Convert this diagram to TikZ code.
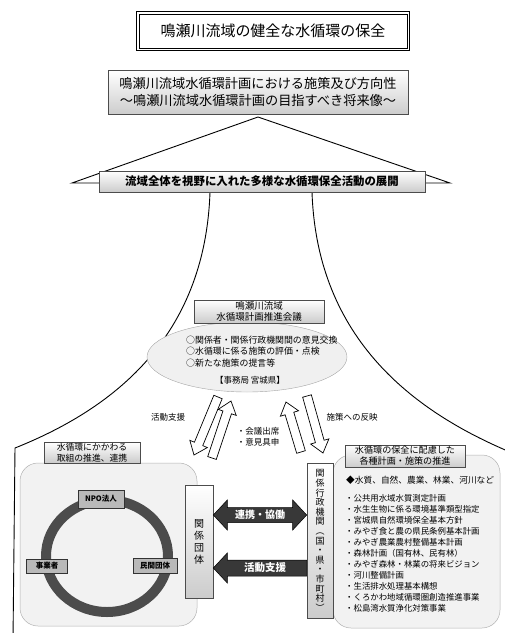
\documentclass[tikz,border=0pt]{standalone}
\usepackage{fontspec}
\setmainfont{Noto Sans CJK JP}
\usetikzlibrary{calc,shapes.geometric}
\tikzset{
  boxshade/.style={draw=black!70, top color=white, bottom color=gray!40, line width=0.6pt, inner sep=1pt, align=center},
  hollow/.style={draw=black, fill=white, line width=0.7pt, line join=miter},
  darkarrow/.style={draw=black, fill=black!78, line width=0.5pt},
  region/.style={draw=gray!60, fill=gray!10, line width=0.5pt},
  ringlabel/.style={draw=black!80, fill=gray!55, inner sep=0pt, font=\fontsize{7.5}{9}\selectfont\bfseries},
  outline/.style={draw=black, line width=0.9pt},
  listitem/.style={anchor=west, inner sep=0pt, font=\fontsize{8.4}{10}\selectfont},
  lbl/.style={inner sep=0pt, font=\fontsize{8.5}{10}\selectfont},
  whitelbl/.style={inner sep=0pt, text=white, font=\fontsize{10}{12}\selectfont\bfseries},
}
\newcommand\hollowarr[3]{%
  \coordinate (#3h) at ($(#2)!12pt!(#1)$);
  \draw[hollow] ($(#1)!4.5pt!90:(#2)$) -- ($(#3h)!4.5pt!-90:(#1)$) -- ($(#3h)!9.5pt!-90:(#1)$) -- (#2)
     -- ($(#3h)!9.5pt!90:(#1)$) -- ($(#3h)!4.5pt!90:(#1)$) -- ($(#1)!4.5pt!-90:(#2)$) -- cycle;
}
\begin{document}
\begin{tikzpicture}[x=1pt,y=-1pt]
\useasboundingbox (0,0) rectangle (505,633);

% title
\node[draw=black, line width=0.6pt, minimum width=268pt, minimum height=34pt,
      font=\fontsize{15}{17}\selectfont] (title) at (273,31) {鳴瀬川流域の健全な水循環の保全};
\draw[line width=0.6pt] ($(title.north west)+(-2,-2)$) rectangle ($(title.south east)+(2,2)$);

% triangle roof
\coordinate (apex) at (258,117);
\coordinate (tl) at (72,183);
\coordinate (tr) at (450,183);
\draw[outline] (tl) -- (apex) -- (tr) -- cycle;

% plan box
\node[boxshade, minimum width=300pt, minimum height=44pt, font=\fontsize{13.2}{17}\selectfont] (plan) at (258,92.5)
  {鳴瀬川流域水循環計画における施策及び方向性\\～鳴瀬川流域水循環計画の目指すべき将来像～};

% mountain curves
\coordinate (cl0) at (210,192);
\coordinate (cl1) at (15,448);
\coordinate (cl2) at (13,640);
\coordinate (cr0) at (312,192);
\coordinate (cr1) at (510,452);
\draw[outline] (cl0) .. controls (205,340) and (110,410) .. (cl1) -- (cl2);
\draw[outline] (cr0) .. controls (317,340) and (415,412) .. (cr1);

% banner
\node[boxshade, minimum width=326pt, minimum height=21pt, font=\fontsize{11.4}{13}\selectfont\bfseries] (banner) at (262,181.5)
  {流域全体を視野に入れた多様な水循環保全活動の展開};

% council
\node[ellipse, draw=gray!70, fill=gray!12, minimum width=200pt, minimum height=70pt] (conf) at (247,357) {};
\node[boxshade, minimum width=130pt, minimum height=23pt, font=\fontsize{9.5}{11}\selectfont] (council) at (259,311.5)
  {鳴瀬川流域\\水循環計画推進会議};
\node[anchor=west, inner sep=0pt, align=left, font=\fontsize{8.9}{11.5}\selectfont] (conftext) at (186,351.5)
  {○関係者・関係行政機関間の意見交換\\○水循環に係る施策の評価・点検\\○新たな施策の提言等};
\node[inner sep=0pt, font=\fontsize{8.5}{10}\selectfont] (office) at (250,380) {【事務局\ 宮城県】};

% hollow arrows
\coordinate (a1s) at (218,397); \coordinate (a1e) at (194,455);
\coordinate (a2s) at (212,458); \coordinate (a2e) at (231,401);
\coordinate (a3s) at (301,452); \coordinate (a3e) at (286,402);
\coordinate (a4s) at (307,396); \coordinate (a4e) at (323,453);
\hollowarr{a1s}{a1e}{a1}
\hollowarr{a2s}{a2e}{a2}
\hollowarr{a3s}{a3e}{a3}
\hollowarr{a4s}{a4e}{a4}
\node[lbl] (lsupport) at (168,417) {活動支援};
\node[lbl] (lreflect) at (352,417) {施策への反映};
\node[lbl, align=left, font=\fontsize{8.5}{11.5}\selectfont] (lmeet) at (258,437) {・会議出席\\・意見具申};

% left region
\draw[region, rounded corners=18pt] (20,463) rectangle (197,626);
\node[boxshade, minimum width=96pt, minimum height=20pt, font=\fontsize{8.8}{10.5}\selectfont] (lhead) at (92,452.5)
  {水循環にかかわる\\取組の推進、連携};
\draw[line width=10pt, black!70] (107,556) ellipse [x radius=61pt, y radius=56pt];
\node[ringlabel, minimum width=46pt, minimum height=18pt] (npo) at (101,499) {NPO法人};
\node[ringlabel, minimum width=41pt, minimum height=14pt] (jigyo) at (47,566) {事業者};
\node[ringlabel, minimum width=44pt, minimum height=15pt] (minkan) at (155,566) {民間団体};

% right region
\draw[region, rounded corners=18pt] (333,455) rectangle (500,628);
\node[boxshade, minimum width=120pt, minimum height=22pt, font=\fontsize{9.1}{11}\selectfont] (rhead) at (405,456)
  {水循環の保全に配慮した\\各種計画・施策の推進};
\node[listitem, font=\fontsize{8.7}{10}\selectfont] (rtop) at (346,480) {◆水質、自然、農業、林業、河川など};
\foreach \t [count=\i] in {公共用水域水質測定計画, 水生生物に係る環境基準類型指定, 宮城県自然環境保全基本方針,
   みやぎ食と農の県民条例基本計画, みやぎ農業農村整備基本計画, 森林計画（国有林、民有林）,
   みやぎ森林・林業の将来ビジョン, 河川整備計画, 生活排水処理基本構想, くろかわ地域循環圏創造推進事業,
   松島湾水質浄化対策事業}
  \node[listitem] (li\i) at (345,{498+(\i-1)*11}) {・\t};

% vertical boxes
\node[boxshade, minimum width=28pt, minimum height=113pt, font=\fontsize{10}{12}\selectfont] (dantai) at (199,541.5)
  {関\\係\\団\\体};
\node[boxshade, minimum width=26pt, minimum height=155pt, font=\fontsize{9}{9.6}\selectfont] (gyosei) at (320,540.5)
  {関\\係\\行\\政\\機\\関\\︵\\国\\・\\県\\・\\市\\町\\村\\︶};

% dark arrows
\coordinate (y1) at (0,515);
\coordinate (y2) at (0,568);
\coordinate (d1l) at (dantai.east |- y1);
\coordinate (d1r) at (gyosei.west |- y1);
\coordinate (d2l) at (dantai.east |- y2);
\coordinate (d2r) at (gyosei.west |- y2);
\draw[darkarrow] (d1l) -- ($(d1l)+(14,-15)$) -- ($(d1l)+(14,-7.5)$) -- ($(d1r)+(-14,-7.5)$) -- ($(d1r)+(-14,-15)$)
   -- (d1r) -- ($(d1r)+(-14,15)$) -- ($(d1r)+(-14,7.5)$) -- ($(d1l)+(14,7.5)$) -- ($(d1l)+(14,15)$) -- cycle;
\draw[darkarrow] (d2l) -- ($(d2l)+(14,-15)$) -- ($(d2l)+(14,-8)$) -- ($(d2r)+(0,-8)$) -- ($(d2r)+(0,8)$)
   -- ($(d2l)+(14,8)$) -- ($(d2l)+(14,15)$) -- cycle;
\node[whitelbl] (coop) at (260,515) {連携・協働};
\node[whitelbl, font=\fontsize{10.5}{12}\selectfont\bfseries] (support) at (265,568) {活動支援};
\end{tikzpicture}
\end{document}
